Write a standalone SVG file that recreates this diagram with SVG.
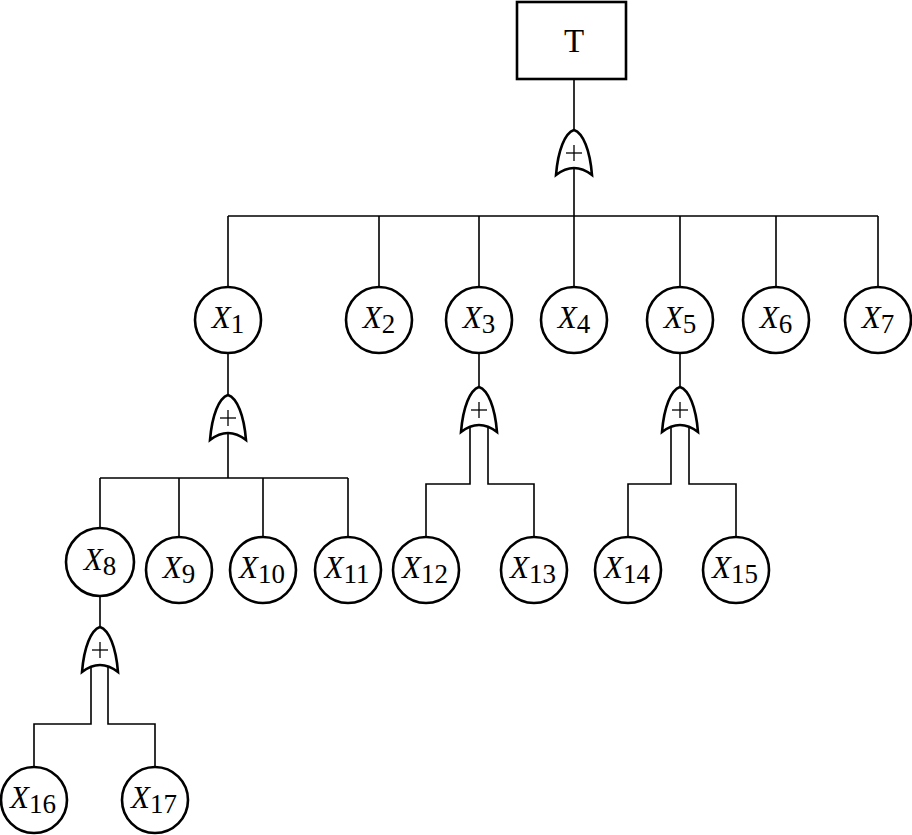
<svg xmlns="http://www.w3.org/2000/svg" xmlns:xlink="http://www.w3.org/1999/xlink" width="912" height="835" viewBox="0 0 912 835">
<style>
.ln{fill:none;stroke:#000;stroke-width:1.6}
.nd{fill:#fff;stroke:#000;stroke-width:2.6}
.gt{fill:#fff;stroke:#000;stroke-width:2.6;stroke-linejoin:miter}
.pl{stroke:#000;stroke-width:1.3}
.lb{font-family:"Liberation Serif","Times New Roman",serif;font-size:31px;fill:#000;text-anchor:middle}
.x{font-style:italic}
.s{font-size:27px}
</style>
<defs>
<g id="or">
<path class="gt" d="M-18,45 C-16,20 -9,3 0,0 C9,3 16,20 18,45 Q0,31 -18,45 Z"/>
<line class="pl" x1="-8" y1="23" x2="8" y2="23"/>
<line class="pl" x1="0" y1="15" x2="0" y2="31"/>
</g>
</defs>
<g id="connectors">
<path class="ln" d="M574,80 V130 M574,168 V216 M228,216 H878 M228,216 V287 M379,216 V287 M479,216 V287 M574,216 V287 M680,216 V287 M776,216 V287 M878,216 V287"/>
<path class="ln" d="M228,353 V395 M228,433 V478 M100,478 H348 M100,478 V529 M179,478 V537 M263,478 V537 M348,478 V537"/>
<path class="ln" d="M479,353 V387 M470,426 V484 H426 V537 M488,426 V484 H534 V537"/>
<path class="ln" d="M680,353 V387 M671,426 V484 H628 V537 M689,426 V484 H736 V537"/>
<path class="ln" d="M100,596 V627 M91,666 V724 H34 V767 M108,666 V724 H155 V767"/>
</g>
<g id="gates">
<use xlink:href="#or" transform="translate(574,130)"/>
<use xlink:href="#or" transform="translate(228,395)"/>
<use xlink:href="#or" transform="translate(479,387)"/>
<use xlink:href="#or" transform="translate(680,387)"/>
<use xlink:href="#or" transform="translate(100,627)"/>
</g>
<g id="T"><rect class="nd" x="517" y="2" width="109" height="77"/><text class="lb" x="574" y="52" style="font-size:33px">T</text></g>
<g id="X1"><circle class="nd" cx="228" cy="320" r="33"/><text class="lb" x="228" y="328"><tspan class="x">X</tspan><tspan class="s" dy="5">1</tspan></text></g>
<g id="X2"><circle class="nd" cx="379" cy="320" r="33"/><text class="lb" x="379" y="328"><tspan class="x">X</tspan><tspan class="s" dy="5">2</tspan></text></g>
<g id="X3"><circle class="nd" cx="479" cy="320" r="33"/><text class="lb" x="479" y="328"><tspan class="x">X</tspan><tspan class="s" dy="5">3</tspan></text></g>
<g id="X4"><circle class="nd" cx="574" cy="320" r="33"/><text class="lb" x="574" y="328"><tspan class="x">X</tspan><tspan class="s" dy="5">4</tspan></text></g>
<g id="X5"><circle class="nd" cx="680" cy="320" r="33"/><text class="lb" x="680" y="328"><tspan class="x">X</tspan><tspan class="s" dy="5">5</tspan></text></g>
<g id="X6"><circle class="nd" cx="776" cy="320" r="33"/><text class="lb" x="776" y="328"><tspan class="x">X</tspan><tspan class="s" dy="5">6</tspan></text></g>
<g id="X7"><circle class="nd" cx="878" cy="320" r="33"/><text class="lb" x="878" y="328"><tspan class="x">X</tspan><tspan class="s" dy="5">7</tspan></text></g>
<g id="X8"><circle class="nd" cx="100" cy="562" r="34"/><text class="lb" x="100" y="570"><tspan class="x">X</tspan><tspan class="s" dy="5">8</tspan></text></g>
<g id="X9"><circle class="nd" cx="179" cy="570" r="33"/><text class="lb" x="179" y="578"><tspan class="x">X</tspan><tspan class="s" dy="5">9</tspan></text></g>
<g id="X10"><circle class="nd" cx="263" cy="570" r="33"/><text class="lb" x="262" y="578"><tspan class="x">X</tspan><tspan class="s" dy="5">10</tspan></text></g>
<g id="X11"><circle class="nd" cx="348" cy="570" r="33"/><text class="lb" x="347" y="578"><tspan class="x">X</tspan><tspan class="s" dy="5">11</tspan></text></g>
<g id="X12"><circle class="nd" cx="426" cy="570" r="33"/><text class="lb" x="425" y="578"><tspan class="x">X</tspan><tspan class="s" dy="5">12</tspan></text></g>
<g id="X13"><circle class="nd" cx="534" cy="570" r="33"/><text class="lb" x="533" y="578"><tspan class="x">X</tspan><tspan class="s" dy="5">13</tspan></text></g>
<g id="X14"><circle class="nd" cx="628" cy="570" r="33"/><text class="lb" x="627" y="578"><tspan class="x">X</tspan><tspan class="s" dy="5">14</tspan></text></g>
<g id="X15"><circle class="nd" cx="736" cy="570" r="33"/><text class="lb" x="735" y="578"><tspan class="x">X</tspan><tspan class="s" dy="5">15</tspan></text></g>
<g id="X16"><circle class="nd" cx="34" cy="800" r="33"/><text class="lb" x="33" y="808"><tspan class="x">X</tspan><tspan class="s" dy="5">16</tspan></text></g>
<g id="X17"><circle class="nd" cx="155" cy="800" r="33"/><text class="lb" x="154" y="808"><tspan class="x">X</tspan><tspan class="s" dy="5">17</tspan></text></g>
</svg>
